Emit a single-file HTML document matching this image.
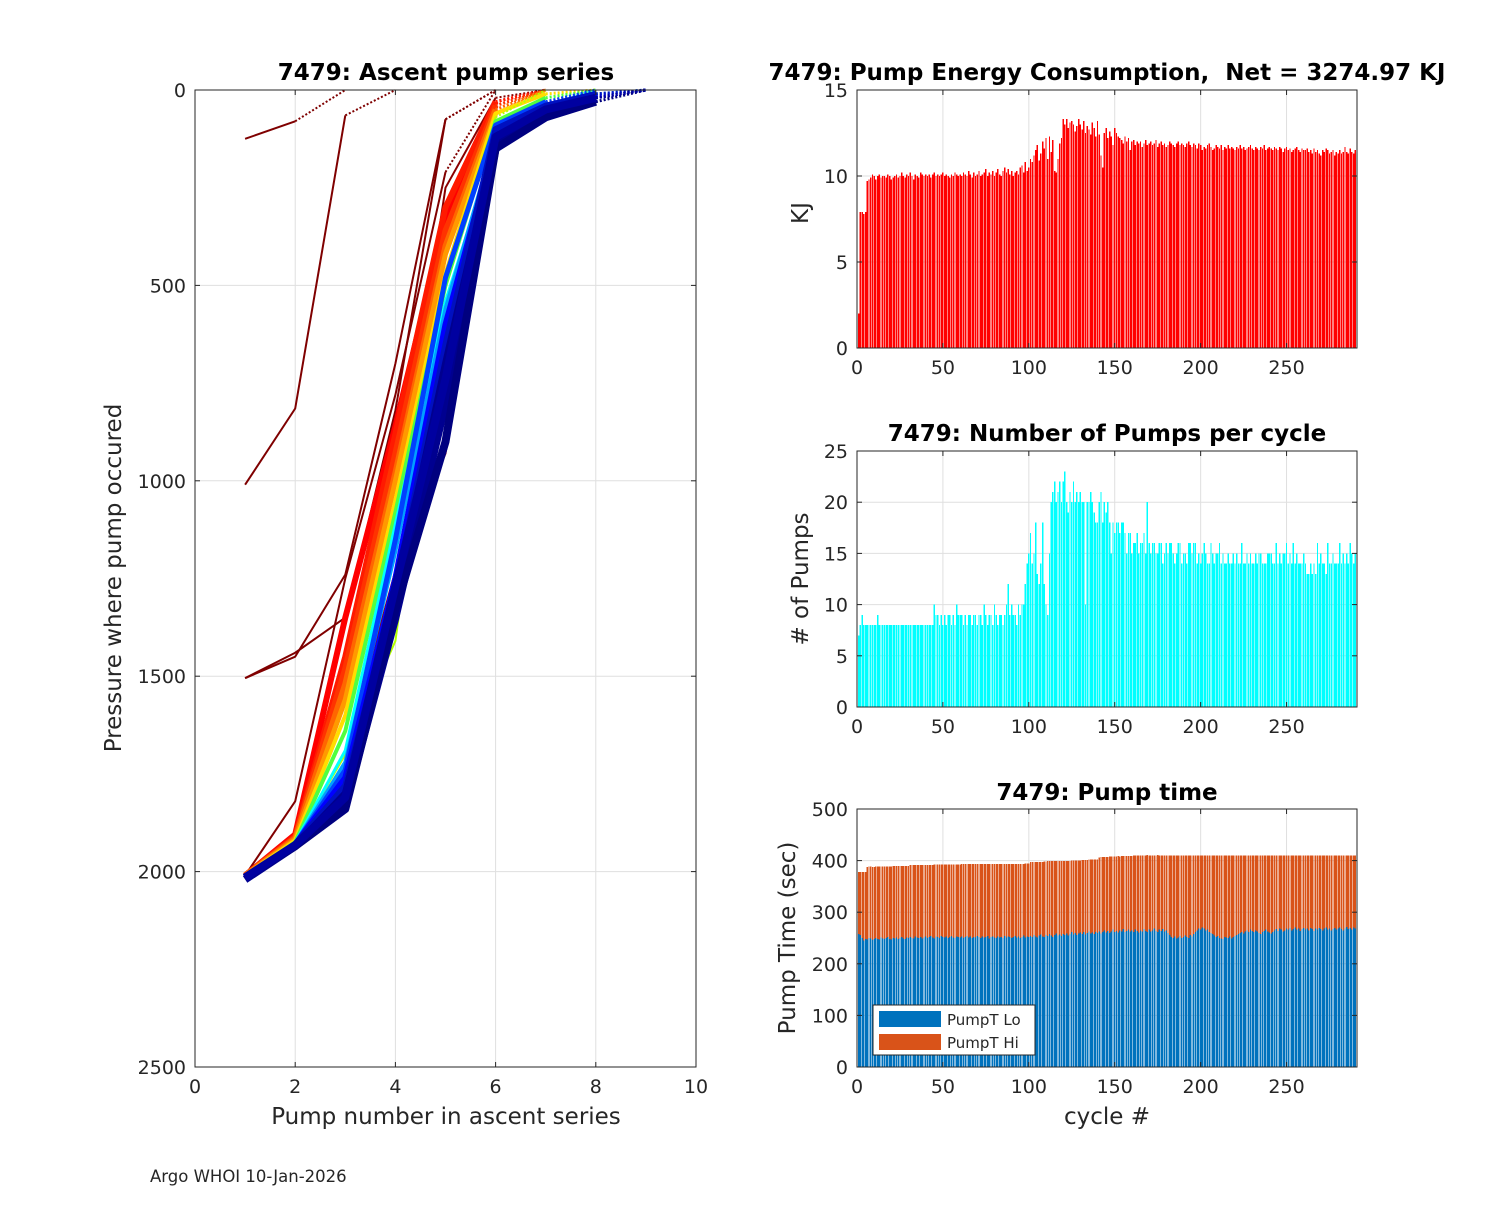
<!DOCTYPE html>
<html><head><meta charset="utf-8"><style>
body{margin:0;background:#fff;}
svg text{font-family:"DejaVu Sans","Liberation Sans",sans-serif;fill:#262626;white-space:pre;}
</style></head><body>
<svg id="fig" width="1500" height="1200" viewBox="0 0 1500 1200" xmlns="http://www.w3.org/2000/svg">
<rect x="0" y="0" width="1500" height="1200" fill="#fff"/>
<g id="L"></g>
<g id="R1"></g>
<g id="R2"></g>
<g id="R3"></g>
<text x="150" y="1182" font-size="16.5" fill="#000">Argo WHOI 10-Jan-2026</text>
</svg>
<script>
// ---- Data ----
const profileColors = ["#7f0000","#7f0000","#800000","#800000","#800000","#8b0000","#9a0000",
 "#ff0000","#ff1a00","#ff3300","#ff6600","#ff9900","#ffdd00","#b4ff00","#50ff40","#00ffff",
 "#00a0ff","#0040ff","#0000ff","#0010c0","#00008f","#000090","#00007f","#0000a0"];
const profilePressures = [
 [125,80,0],
 [1010,815,65,0],
 [1505,1450,1240,700,75,0],
 [1505,1440,1350,820,75,0],
 [2010,1820,1250,780,210,0],
 [2005,1905,1550,1100,250,20,0],
 [2010,1915,1700,1230,930,120,30,0],
 [2010,1905,1350,860,330,30,0],
 [2010,1910,1450,880,300,30,0],
 [2010,1912,1480,930,360,40,0],
 [2010,1915,1520,980,400,50,0],
 [2010,1918,1560,1000,420,60,0],
 [2010,1920,1600,1050,470,60,10,0],
 [2010,1922,1700,1410,480,70,0],
 [2012,1925,1640,1080,500,80,20,0],
 [2015,1925,1690,1110,540,140,40,0],
 [2015,1928,1720,1180,560,120,40,10,0],
 [2015,1930,1740,1150,480,90,30,0],
 [2015,1930,1760,1250,600,130,50,15,0],
 [2015,1930,1780,1280,650,100,40,10,0],
 [2015,1935,1800,1300,700,140,60,20,0],
 [2020,1935,1830,1350,800,150,60,20,0],
 [2015,1935,1840,1330,900,150,70,30,0],
 [2015,1932,1810,1270,740,120,50,20,0]
];
const profileWidths = [2,2,2,2,2,2,2,6,6,6,6,5,4,2,4,3,4,5,6,6,7,8,8,8];

const energyKJ = [2,7.9,7.9,7.8,7.9,
9.7,9.8,9.9,10.1,10.0,9.8,10.0,10.1,9.9,10.0,10.0,9.9,10.1,10.0,9.8,
9.9,10.0,10.1,9.9,10.0,10.2,10.0,9.9,10.1,10.0,10.2,10.0,9.8,10.1,10.0,9.9,10.2,10.1,10.0,10.1,
10.0,10.1,9.9,10.1,10.2,10.0,10.1,10.0,10.1,10.2,10.0,10.1,10.0,9.9,10.1,10.0,10.2,10.1,10.0,10.1,
10.0,10.2,10.1,10.0,10.3,10.1,9.9,10.2,10.0,10.1,10.3,10.0,10.1,10.2,10.4,10.0,10.2,10.1,10.3,10.0,
10.2,10.4,10.1,10.0,10.3,10.5,10.2,10.4,10.1,10.3,10.0,10.2,10.3,10.1,10.5,10.6,10.2,10.8,10.3,10.5,
11.0,10.8,11.2,11.5,11.8,10.9,11.3,12.0,11.6,12.2,11.0,12.3,11.4,12.1,10.3,10.2,11.0,11.9,12.2,13.3,
13.0,13.3,12.8,13.1,13.2,13.0,12.6,12.9,13.3,13.0,12.7,13.2,12.5,12.9,12.7,12.4,13.1,12.8,12.3,13.2,
12.4,11.2,10.5,12.5,12.8,12.2,12.6,12.3,11.8,12.8,12.5,12.3,12.2,12.1,11.9,12.3,12.0,12.2,11.5,12.0,
12.1,11.8,12.0,11.9,12.0,11.7,11.9,12.1,11.8,11.9,12.0,11.8,11.9,12.1,11.7,11.9,12.0,11.8,11.9,11.7,
11.8,12.0,11.9,11.8,11.7,11.9,12.0,11.8,11.9,11.8,11.7,11.9,12.0,11.8,11.7,11.9,11.8,11.6,11.9,11.8,
11.5,11.7,11.6,11.8,11.9,11.7,11.5,11.6,11.8,11.7,11.6,11.8,11.5,11.7,11.6,11.8,11.6,11.7,11.6,11.5,
11.7,11.6,11.8,11.6,11.7,11.5,11.6,11.7,11.8,11.6,11.5,11.7,11.6,11.5,11.7,11.6,11.8,11.5,11.6,11.7,
11.6,11.5,11.7,11.6,11.5,11.7,11.6,11.4,11.6,11.7,11.5,11.6,11.4,11.5,11.6,11.7,11.5,11.4,11.6,11.5,
11.5,11.6,11.4,11.5,11.3,11.6,11.4,11.5,11.3,11.2,11.5,11.4,11.6,11.5,11.3,11.4,11.5,11.2,11.4,11.3,
11.5,11.3,11.4,11.7,11.4,11.3,11.6,11.4,11.3,11.5,11.4];

const pumpCounts = [7,8,9,8,
8,8,8,8,8,8,8,9,8,8,8,8,8,8,8,8,8,8,8,8,8,8,8,8,8,8,8,8,8,8,8,8,8,8,8,8,8,8,8,8,
10,9,9,8,9,8,9,8,9,9,8,9,8,10,9,
9,9,8,9,8,9,9,8,9,9,8,9,9,8,10,9,8,9,9,8,10,9,8,9,9,
8,9,10,12,9,10,9,9,8,10,
9,10,10,12,14,15,17,14,15,18,13,12,14,18,12,
10,9,15,20,21,22,20,21,22,20,
22,23,20,19,21,20,22,20,21,20,21,20,20,10,20,20,21,20,19,18,
18,20,21,18,20,19,20,18,15,18,17,18,18,17,18,18,17,15,17,17,
15,16,16,17,15,16,16,17,15,20,16,15,16,16,15,15,16,16,14,15,
16,15,16,16,15,14,15,16,16,14,15,15,14,16,16,15,16,16,14,15,
14,15,16,15,14,14,16,15,14,15,15,16,14,15,14,14,15,14,14,15,
14,15,14,14,16,14,14,15,14,15,14,14,15,14,15,15,14,14,14,15,
15,15,14,14,16,14,15,14,15,15,16,14,15,14,16,14,15,14,14,14,
15,14,13,13,14,13,14,13,16,14,15,14,14,13,16,14,14,15,14,14,
14,16,14,15,14,15,14,16,15,14,15];

const pumpTLo = [258,256,250,245,248,247,250,249,246,248,
250,248,247,251,249,248,250,252,248,247,
250,249,251,248,250,252,249,248,251,250,
252,250,249,253,251,250,252,249,251,253,
250,252,254,251,249,253,252,250,254,252,
251,253,250,252,254,251,250,253,252,251,
253,250,252,254,251,253,250,252,251,254,
252,250,253,251,252,254,249,252,253,251,
250,253,251,252,250,254,251,253,252,250,
252,254,251,253,250,252,255,251,253,252,
254,252,256,253,251,255,257,253,252,256,
254,258,255,252,256,259,255,257,254,258,
256,259,255,258,262,257,260,256,259,261,
258,262,257,260,263,259,261,258,262,260,
263,259,262,265,261,264,260,263,266,262,
264,261,265,263,267,262,264,266,263,265,
262,266,264,261,265,263,267,264,262,266,
263,265,268,264,262,266,264,267,263,265,
260,256,252,250,253,249,251,254,250,252,
255,252,250,256,253,258,262,265,268,266,
270,268,265,266,262,260,258,255,252,254,
250,249,248,252,251,250,253,249,252,254,
256,258,260,262,259,263,265,262,266,264,
262,265,263,260,258,262,264,266,263,261,
259,262,265,267,264,268,266,263,265,268,
266,269,265,267,270,266,268,264,267,269,
266,268,265,269,267,264,268,266,269,267,
265,268,270,266,268,265,267,269,266,268,
270,267,265,268,271,267,269,266,270,268,272];

const pumpTHi = [120,122,128,133,130,141,139,140,142,140,
139,141,142,138,140,141,139,137,141,142,
140,141,139,142,140,138,141,142,139,140,
139,141,142,138,140,141,139,142,140,138,
141,139,137,140,143,139,140,142,138,140,
141,139,142,140,138,141,142,139,140,141,
140,143,141,139,142,140,143,141,142,139,
141,143,140,142,141,139,144,141,140,142,
143,140,142,141,143,139,142,140,141,143,
141,139,142,140,143,141,138,143,141,142,
143,145,141,144,146,142,140,144,146,142,
145,141,144,147,143,140,144,142,145,141,
143,140,144,141,138,143,140,144,141,139,
143,139,144,141,139,143,141,144,140,142,
143,148,145,142,146,143,148,145,142,146,
144,148,143,146,142,147,145,143,146,144,
148,144,146,149,145,147,143,146,149,144,
147,145,142,146,149,144,146,143,147,145,
150,154,158,160,157,161,159,156,160,158,
155,158,160,154,157,152,148,145,142,144,
140,142,145,144,148,150,152,155,158,156,
160,161,162,158,159,160,157,161,158,156,
154,152,150,148,151,147,145,148,144,146,
148,145,147,150,152,148,146,144,147,149,
151,148,145,143,146,142,144,147,145,142,
144,141,145,143,140,144,142,146,143,141,
144,142,145,141,143,146,142,144,141,143,
145,142,140,144,142,145,143,141,144,142,
140,143,145,142,139,143,141,144,140,142,141];

const leftXTicks = [0,2,4,6,8,10];
const leftYTicks = [0,500,1000,1500,2000,2500];
const cycleTicks = [0,50,100,150,200,250];
const energyTicks = [0,5,10,15];
const pumpTicks = [0,5,10,15,20,25];
const timeTicks = [0,100,200,300,400,500];

// ---- helpers ----
const NS = "http://www.w3.org/2000/svg";
function mk(parent, tag, attrs, text){
  const e = document.createElementNS(NS, tag);
  for (const k in attrs) e.setAttribute(k, attrs[k]);
  if (text !== undefined) e.textContent = text;
  parent.appendChild(e);
  return e;
}
function lin(d0,d1,r0,r1){ return v => r0 + (v-d0)/(d1-d0)*(r1-r0); }

function axesFrame(g, box, xs, ys, xt, yt){
  const grid = mk(g,'g',{});
  
  
  xt.forEach(t=>{ const x=xs(t); if(x>box.x0+0.5 && x<box.x1-0.5) mk(grid,'line',{x1:x,x2:x,y1:box.y0,y2:box.y1,stroke:'#dfdfdf','stroke-width':1}); });
  yt.forEach(t=>{ const y=ys(t); if(y>box.y0+0.5 && y<box.y1-0.5) mk(grid,'line',{x1:box.x0,x2:box.x1,y1:y,y2:y,stroke:'#dfdfdf','stroke-width':1}); });
}
function axesOverlay(g, box, xs, ys, xt, yt, xlabels, ylabels){
  const ax = mk(g,'g',{});
  
  
  mk(ax,'rect',{x:box.x0,y:box.y0,width:box.x1-box.x0,height:box.y1-box.y0,fill:'none',stroke:'#262626','stroke-width':1});
  const tl=5;
  xt.forEach((t,i)=>{ const x=xs(t);
    mk(ax,'line',{x1:x,x2:x,y1:box.y1,y2:box.y1-tl,stroke:'#262626'});
    mk(ax,'line',{x1:x,x2:x,y1:box.y0,y2:box.y0+tl,stroke:'#262626'});
    const tx = mk(ax,'text',{x:x,y:box.y1+26,'font-size':19,'text-anchor':'middle'}, xlabels[i]);
    
    
  });
  yt.forEach((t,i)=>{ const y=ys(t);
    mk(ax,'line',{x1:box.x0,x2:box.x0+tl,y1:y,y2:y,stroke:'#262626'});
    mk(ax,'line',{x1:box.x1,x2:box.x1-tl,y1:y,y2:y,stroke:'#262626'});
    const tx = mk(ax,'text',{x:box.x0-9,y:y+7,'font-size':19,'text-anchor':'end'}, ylabels[i]);
    
    
  });
}
function title(g,x,y,s){
  const t = mk(g,'text',{x:x,y:y,'font-size':23,'font-weight':'bold','text-anchor':'middle',fill:'#000'}, s);
  
  
  t.style.fill='#000';
}
function ylab(g,x,y,s){
  const t = mk(g,'text',{x:x,y:y,'font-size':23,'text-anchor':'middle',transform:`rotate(-90 ${x} ${y})`}, s);
  
  
}
function xlab(g,x,y,s){
  const t = mk(g,'text',{x:x,y:y,'font-size':23,'text-anchor':'middle'}, s);
  
  
}

// ---- Left chart ----
(function(){
  const g = document.getElementById('L');
  const box={x0:195,x1:696,y0:90,y1:1067};
  const xs=lin(0,10,box.x0,box.x1), ys=lin(0,2500,box.y0,box.y1);
  axesFrame(g,box,xs,ys,leftXTicks,leftYTicks);
  const lines = mk(g,'g',{fill:'none','stroke-linejoin':'round'});
  
  
  profilePressures.forEach((p,i)=>{
    const pts = p.map((v,k)=>[xs(k+1),ys(v)]);
    const solid = pts.slice(0,pts.length-1).map(q=>q.join(',')).join(' ');
    const pl = mk(lines,'polyline',{points:solid,stroke:profileColors[i],'stroke-width':profileWidths[i]});
    
    
    const a=pts[pts.length-2], b=pts[pts.length-1];
    const dl = mk(lines,'line',{x1:a[0],y1:a[1],x2:b[0],y2:b[1],stroke:profileColors[i],'stroke-width':Math.min(3,profileWidths[i]),'stroke-dasharray':'2,2'});
    
    
  });
  axesOverlay(g,box,xs,ys,leftXTicks,leftYTicks,leftXTicks.map(String),leftYTicks.map(String));
  title(g,446,80,'7479: Ascent pump series');
  ylab(g,121,578,'Pressure where pump occured');
  xlab(g,446,1124,'Pump number in ascent series');
})();

function barChart(gid, box, ymax, yt, series, colors, names){
  const g = document.getElementById(gid);
  const xs=lin(0,291,box.x0,box.x1), ys=lin(0,ymax,box.y1,box.y0);
  axesFrame(g,box,xs,ys,cycleTicks,yt);
  const bars = mk(g,'g',{'shape-rendering':'crispEdges'});
  
  
  const w = 0.8*(box.x1-box.x0)/291;
  const n = series[0].length;
  for(let i=0;i<n;i++){
    let base=0;
    series.forEach((s,k)=>{
      const y0=ys(base), y1=ys(base+s[i]);
      const r = mk(bars,'rect',{x:xs(i+1)-w/2,y:y1,width:w,height:Math.max(0,y0-y1),fill:colors[k]});
      
      
      base+=s[i];
    });
  }
  axesOverlay(g,box,xs,ys,cycleTicks,yt,cycleTicks.map(String),yt.map(String));
  return g;
}

// ---- Right charts ----
(function(){
  const g = barChart('R1',{x0:857,x1:1357,y0:90,y1:348},15,energyTicks,[energyKJ],['#ff0000'],['energy-bar']);
  title(g,1107,80,'7479: Pump Energy Consumption,  Net = 3274.97 KJ');
  ylab(g,808,213,'KJ');
})();
(function(){
  const g = barChart('R2',{x0:857,x1:1357,y0:451,y1:707},25,pumpTicks,[pumpCounts],['#00ffff'],['pump-count-bar']);
  title(g,1107,441,'7479: Number of Pumps per cycle');
  ylab(g,808,579,'# of Pumps');
})();
(function(){
  const g = barChart('R3',{x0:857,x1:1357,y0:809,y1:1067},500,timeTicks,[pumpTLo,pumpTHi],['#0072bd','#d95319'],['pumpt-lo-bar','pumpt-hi-bar']);
  title(g,1107,800,'7479: Pump time');
  ylab(g,795,938,'Pump Time (sec)');
  xlab(g,1107,1124,'cycle #');
  const lg = mk(g,'g',{});
  
  
  mk(lg,'rect',{x:873,y:1005,width:162,height:50,fill:'#fff',stroke:'#262626','stroke-width':1});
  const s1 = mk(lg,'rect',{x:879,y:1011,width:62,height:16,fill:'#0072bd'});
  
  
  mk(lg,'text',{x:947,y:1025,'font-size':15},'PumpT Lo');
  const s2 = mk(lg,'rect',{x:879,y:1034,width:62,height:16,fill:'#d95319'});
  
  
  mk(lg,'text',{x:947,y:1048,'font-size':15},'PumpT Hi');
})();
</script>
</body></html>
